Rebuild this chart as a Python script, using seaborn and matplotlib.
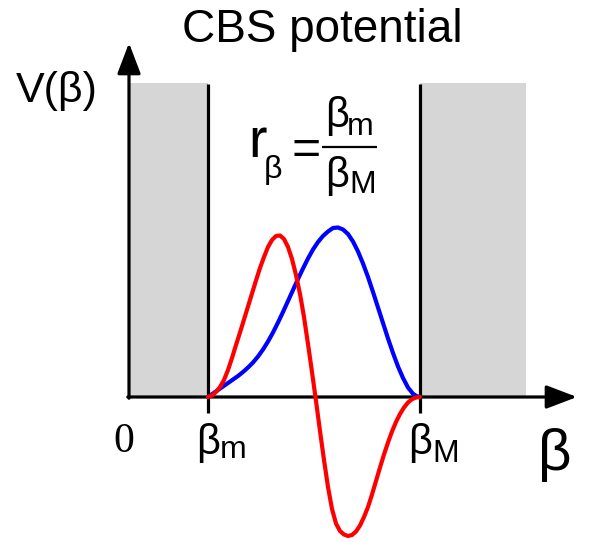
import numpy as np
import pandas as pd
import matplotlib
matplotlib.use("Agg")
import matplotlib.pyplot as plt
import seaborn as sns

# Well edges (beta_m, beta_M) and wall height, in beta units
beta_m = 0.79
beta_M = 2.91
wall_top = 3.14
wall_right = 3.97

# Ground state (blue) read along beta
blue_beta = [0.79, 0.84, 0.89, 0.94, 0.99, 1.04, 1.09, 1.14, 1.19, 1.24, 1.29, 1.34,
             1.39, 1.44, 1.49, 1.54, 1.59, 1.64, 1.69, 1.74, 1.79, 1.84, 1.89, 1.94,
             1.99, 2.04, 2.09, 2.14, 2.19, 2.24, 2.29, 2.34, 2.39, 2.44, 2.49, 2.54,
             2.59, 2.64, 2.69, 2.74, 2.79, 2.84, 2.88, 2.91]
blue_psi = [0.000, 0.035, 0.070, 0.105, 0.140, 0.175, 0.210, 0.250, 0.295, 0.345, 0.405, 0.475,
            0.555, 0.645, 0.745, 0.850, 0.960, 1.070, 1.180, 1.285, 1.385, 1.475, 1.550, 1.610,
            1.655, 1.690, 1.695, 1.675, 1.630, 1.555, 1.455, 1.335, 1.200, 1.050, 0.895, 0.740,
            0.585, 0.440, 0.305, 0.190, 0.095, 0.032, 0.007, 0.000]

# First excited state (red)
red_beta = [0.79, 0.83, 0.87, 0.91, 0.95, 0.99, 1.03, 1.07, 1.11, 1.15, 1.19, 1.23,
            1.27, 1.31, 1.35, 1.39, 1.43, 1.47, 1.51, 1.55, 1.59, 1.63, 1.67, 1.71,
            1.75, 1.79, 1.83, 1.87, 1.91, 1.95, 1.99, 2.03, 2.07, 2.11, 2.15, 2.19,
            2.23, 2.27, 2.31, 2.35, 2.39, 2.43, 2.47, 2.51, 2.55, 2.59, 2.63, 2.67,
            2.71, 2.75, 2.79, 2.83, 2.87, 2.91]
red_psi = [0.000, 0.015, 0.050, 0.100, 0.170, 0.270, 0.390, 0.520, 0.645, 0.775, 0.905, 1.035,
           1.165, 1.290, 1.400, 1.500, 1.570, 1.610, 1.615, 1.580, 1.500, 1.380, 1.220, 1.030,
           0.800, 0.530, 0.250, -0.040, -0.340, -0.630, -0.900, -1.120, -1.265, -1.340, -1.375, -1.390,
           -1.380, -1.345, -1.285, -1.200, -1.100, -0.975, -0.840, -0.705, -0.575, -0.455, -0.345, -0.250,
           -0.170, -0.105, -0.055, -0.022, -0.005, 0.000]

sns.set_theme(style="white")
plt.rcParams["font.family"] = ["Liberation Sans", "DejaVu Sans"]
plt.rcParams["text.color"] = "black"

fig = plt.figure(figsize=(5.96, 5.42), dpi=100)
ax = fig.add_axes([0, 0, 1, 1])
ax.set_xlim(-1.29, 4.67)
ax.set_ylim(-1.45, 3.97)
ax.axis("off")


def P(px, py):
    """Canvas pixel position (from top-left) to beta units."""
    return (px - 129) / 100.0, (397 - py) / 100.0


gray = "#d6d6d6"
# infinite walls
ax.fill_between([0, beta_m], 0, wall_top, color=gray, lw=0, zorder=1)
ax.fill_between([beta_M, wall_right], 0, wall_top, color=gray, lw=0, zorder=1)

# well edges, extending below the axis as ticks
for b in (beta_m, beta_M):
    ax.plot([b, b], [-0.16, wall_top - 0.01], color="black", lw=2.3,
            solid_capstyle="butt", zorder=3)

# axes with arrowheads
arrow = dict(arrowstyle="-|>,head_length=0.42,head_width=0.16",
             mutation_scale=45, color="black", lw=2.3,
             shrinkA=0, shrinkB=0)
ax.annotate("", xy=(0, 3.54), xytext=(0, -0.012), arrowprops=arrow, zorder=4)
ax.annotate("", xy=(4.48, 0), xytext=(-0.012, 0), arrowprops=arrow, zorder=4)

# wavefunctions
df = pd.concat([
    pd.DataFrame({"beta": blue_beta, "psi": blue_psi, "state": "ground"}),
    pd.DataFrame({"beta": red_beta, "psi": red_psi, "state": "excited"}),
], ignore_index=True)
sns.lineplot(data=df, x="beta", y="psi", hue="state",
             palette={"ground": "#0000ff", "excited": "#ff0000"},
             estimator=None, sort=False, lw=3.0, legend=False, ax=ax, zorder=5)
for ln in ax.get_lines()[-2:]:
    ln.set_solid_joinstyle("round")
    ln.set_solid_capstyle("round")

# text
def txt(px, py, s, size, **kw):
    x, y = P(px, py)
    ax.text(x, y, s, fontsize=size, va="baseline", color="black", **kw)

txt(322, 42, "CBS potential", 33, ha="center")
txt(16, 102, "V(β)", 31, ha="left")
txt(538, 470, "β", 42, ha="left")
txt(113, 452, "0", 30, ha="left", family=["Liberation Serif"])

# beta_m and beta_M labels
txt(196, 454, "β", 30, ha="left")
txt(220, 458, "m", 23, ha="left")
txt(408, 454, "β", 30, ha="left")
txt(432, 462, "M", 23, ha="left")

# r_beta = beta_m / beta_M
txt(248, 157, "r", 40, ha="left")
txt(264, 178, "β", 23, ha="left")
txt(291, 164, "=", 36, ha="left")
x0, y0 = P(322, 147)
x1, _ = P(377, 147)
ax.plot([x0, x1], [y0, y0], color="black", lw=1.6, solid_capstyle="butt")
txt(325, 127, "β", 30, ha="left")
txt(347, 135, "m", 23, ha="left")
txt(325, 187, "β", 30, ha="left")
txt(349, 193, "M", 23, ha="left")

fig.savefig("out.png", dpi=100)
